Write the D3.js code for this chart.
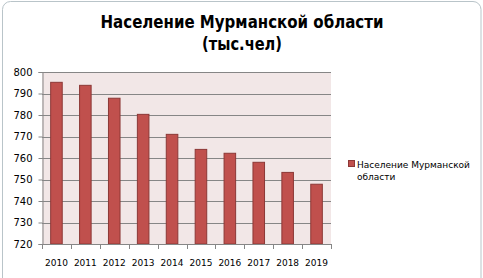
<!DOCTYPE html>
<html>
<head>
<meta charset="utf-8">
<script src="https://cdn.jsdelivr.net/npm/d3@7"></script>
<style>
  body { margin: 0; background: #fff; }
  text { font-family: "DejaVu Sans", Verdana, sans-serif; }
</style>
</head>
<body>
<div id="chart"></div>
<script>
const years = ["2010", "2011", "2012", "2013", "2014", "2015", "2016", "2017", "2018", "2019"];
const population = [795.2, 793.8, 787.8, 780.3, 771.0, 764.0, 762.2, 758.0, 753.3, 747.8];
const yTicks = [720, 730, 740, 750, 760, 770, 780, 790, 800];
const titleLines = ["Население Мурманской области", "(тыс.чел)"];
const legendLines = ["Население Мурманской", "области"];

const width = 483, height = 278;
const plot = { left: 42, right: 331, top: 72, bottom: 244 };

const svg = d3.select("#chart").append("svg")
  .attr("width", width)
  .attr("height", height);

// outer chart frame
svg.append("rect")
  .attr("x", 2.5).attr("y", 1.5)
  .attr("width", 478.5).attr("height", 290)
  .attr("rx", 8)
  .attr("fill", "#fff")
  .attr("stroke", "#b9c4c9");

// title (Calibri-like width, so squeeze to fit)
const titleWidths = [283, 80];
svg.append("g").selectAll("text")
  .data(titleLines)
  .join("text")
  .attr("x", 242)
  .attr("y", (d, i) => 28 + i * 22)
  .attr("text-anchor", "middle")
  .attr("font-family", "'Noto Sans', sans-serif")
  .attr("font-weight", "bold")
  .attr("font-size", "17px")
  .attr("textLength", (d, i) => titleWidths[i])
  .attr("lengthAdjust", "spacingAndGlyphs")
  .attr("fill", "#000")
  .text(d => d);

const x = d3.scaleBand()
  .domain(years)
  .range([plot.left, plot.right])
  .paddingInner(0.6)
  .paddingOuter(0.3);

const y = d3.scaleLinear()
  .domain([720, 800])
  .range([plot.bottom, plot.top]);

// plot background
svg.append("rect")
  .attr("x", plot.left).attr("y", plot.top)
  .attr("width", plot.right - plot.left)
  .attr("height", plot.bottom - plot.top)
  .attr("fill", "#f2e7e7");

// gridlines
svg.append("g").selectAll("line")
  .data(yTicks.slice(1))
  .join("line")
  .attr("x1", plot.left).attr("x2", plot.right)
  .attr("y1", d => Math.round(y(d)) + 0.5)
  .attr("y2", d => Math.round(y(d)) + 0.5)
  .attr("stroke", "#868686");

// bars
svg.append("g").selectAll("rect")
  .data(population)
  .join("rect")
  .attr("x", (d, i) => x(years[i]))
  .attr("y", d => y(d))
  .attr("width", x.bandwidth())
  .attr("height", d => y(720) - y(d))
  .attr("fill", "#c0504d")
  .attr("stroke", "#8c3836")
  .attr("stroke-width", 1);

// y axis
const yAxis = svg.append("g")
  .attr("transform", `translate(${plot.left + 0.5},0)`)
  .call(d3.axisLeft(y).tickValues(yTicks).tickSize(4).tickPadding(6));
yAxis.selectAll("line, path").attr("stroke", "#868686");
yAxis.selectAll("text")
  .attr("font-size", "10px")
  .attr("font-family", "'DejaVu Sans', sans-serif")
  .attr("fill", "#000");

// x axis: line plus ticks at category boundaries
const xAxis = svg.append("g");
xAxis.append("line")
  .attr("x1", plot.left).attr("x2", plot.right)
  .attr("y1", plot.bottom + 0.5).attr("y2", plot.bottom + 0.5)
  .attr("stroke", "#868686");
xAxis.selectAll(".tick")
  .data(d3.range(years.length + 1))
  .join("line")
  .attr("class", "tick")
  .attr("x1", i => Math.round(plot.left + i * (plot.right - plot.left) / years.length) + 0.5)
  .attr("x2", i => Math.round(plot.left + i * (plot.right - plot.left) / years.length) + 0.5)
  .attr("y1", plot.bottom).attr("y2", plot.bottom + 5)
  .attr("stroke", "#868686");
xAxis.selectAll(".lbl")
  .data(years)
  .join("text")
  .attr("class", "lbl")
  .attr("x", d => x(d) + x.bandwidth() / 2)
  .attr("y", 266)
  .attr("text-anchor", "middle")
  .attr("font-size", "9px")
  .attr("fill", "#000")
  .text(d => d);

// legend
const legend = svg.append("g").attr("transform", "translate(348,160)");
legend.append("rect")
  .attr("x", 0.5).attr("y", 0.5)
  .attr("width", 6).attr("height", 6)
  .attr("fill", "#c0504d")
  .attr("stroke", "#8c3836");
legend.selectAll("text")
  .data(legendLines)
  .join("text")
  .attr("x", 9)
  .attr("y", (d, i) => 7.5 + i * 12)
  .attr("font-size", "9px")
  .attr("fill", "#000")
  .text(d => d);
</script>
</body>
</html>
